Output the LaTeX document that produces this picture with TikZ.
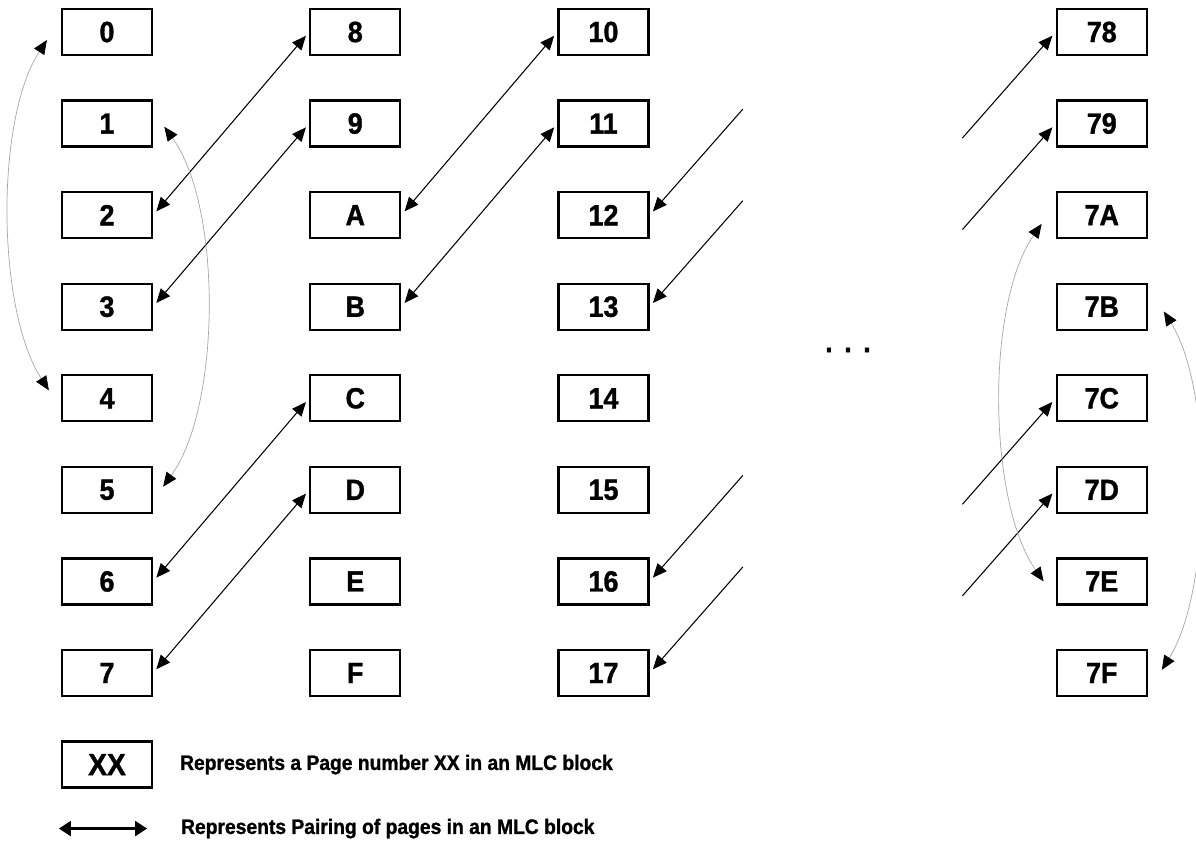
\documentclass[tikz,border=0pt]{standalone}
\usepackage{fontspec}
\newfontfamily\pagefont{Liberation Sans}[FakeStretch=0.92, BoldFeatures={FakeBold=1.2}]
\usetikzlibrary{arrows.meta, positioning, calc}

\begin{document}
\begin{tikzpicture}[
    node distance=1.083cm and 3.9cm,
    page/.style={rectangle, draw, line width=1.6pt, minimum width=2.25cm, minimum height=1.15cm, inner sep=0pt, font=\pagefont\bfseries\fontsize{20.8}{24}\selectfont},
    pairline/.style={{Triangle[length=10pt,width=8.5pt]}-{Triangle[length=10pt,width=8.5pt]}, line width=0.75pt, shorten <=3.5pt, shorten >=3.5pt},
    oneway/.style={-{Triangle[length=10pt,width=8.5pt]}, line width=0.75pt, shorten >=3.5pt},
    grayline/.style={{Triangle[length=10pt,width=8.5pt,color=black]}-{Triangle[length=10pt,width=8.5pt,color=black]}, draw=gray!70, line width=0.5pt},
    legendarrow/.style={{Triangle[length=8.5pt,width=10.5pt]}-{Triangle[length=8.5pt,width=10.5pt]}, line width=1.8pt},
    legendtext/.style={inner sep=0pt, outer sep=0pt, font=\pagefont\bfseries\fontsize{14.9}{17}\selectfont}
]
    \useasboundingbox (0,0) rectangle (29.9,-21.15);

    % Column 1
    \node[page] (p0) at (2.675,-0.8) {0};
    \node[page, below=of p0] (p1) {1};
    \node[page, below=of p1] (p2) {2};
    \node[page, below=of p2] (p3) {3};
    \node[page, below=of p3] (p4) {4};
    \node[page, below=of p4] (p5) {5};
    \node[page, below=of p5] (p6) {6};
    \node[page, below=of p6] (p7) {7};

    % Column 2
    \node[page, right=of p0] (p8) {8};
    \node[page, below=of p8] (p9) {9};
    \node[page, below=of p9] (pA) {A};
    \node[page, below=of pA] (pB) {B};
    \node[page, below=of pB] (pC) {C};
    \node[page, below=of pC] (pD) {D};
    \node[page, below=of pD] (pE) {E};
    \node[page, below=of pE] (pF) {F};

    % Column 3
    \node[page, right=of p8] (p10) {10};
    \node[page, below=of p10] (p11) {11};
    \node[page, below=of p11] (p12) {12};
    \node[page, below=of p12] (p13) {13};
    \node[page, below=of p13] (p14) {14};
    \node[page, below=of p14] (p15) {15};
    \node[page, below=of p15] (p16) {16};
    \node[page, below=of p16] (p17) {17};

    % Column 4
    \node[page, right=10.15cm of p10] (p78) {78};
    \node[page, below=of p78] (p79) {79};
    \node[page, below=of p79] (p7A) {7A};
    \node[page, below=of p7A] (p7B) {7B};
    \node[page, below=of p7B] (p7C) {7C};
    \node[page, below=of p7C] (p7D) {7D};
    \node[page, below=of p7D] (p7E) {7E};
    \node[page, below=of p7E] (p7F) {7F};

    \node[font=\pagefont\bfseries\fontsize{20.8}{24}\selectfont] (dots) at (21.2,-8.75) {.\hspace{0.29cm}.\hspace{0.29cm}.};

    % Pairings
    \draw[pairline] (p2.east) -- (p8.west);
    \draw[pairline] (p3.east) -- (p9.west);
    \draw[pairline] (p6.east) -- (pC.west);
    \draw[pairline] (p7.east) -- (pD.west);
    \draw[pairline] (pA.east) -- (p10.west);
    \draw[pairline] (pB.east) -- (p11.west);

    % Open ends around the gap
    \coordinate (g12) at ($(p12.east)+(2.33,2.65)$);
    \coordinate (g13) at ($(p13.east)+(2.33,2.65)$);
    \coordinate (g16) at ($(p16.east)+(2.33,2.65)$);
    \coordinate (g17) at ($(p17.east)+(2.33,2.65)$);
    \draw[oneway] (g12) -- (p12.east);
    \draw[oneway] (g13) -- (p13.east);
    \draw[oneway] (g16) -- (p16.east);
    \draw[oneway] (g17) -- (p17.east);

    \coordinate (g78) at ($(p78.west)+(-2.33,-2.65)$);
    \coordinate (g79) at ($(p79.west)+(-2.33,-2.65)$);
    \coordinate (g7C) at ($(p7C.west)+(-2.33,-2.65)$);
    \coordinate (g7D) at ($(p7D.west)+(-2.33,-2.65)$);
    \draw[oneway] (g78) -- (p78.west);
    \draw[oneway] (g79) -- (p79.west);
    \draw[oneway] (g7C) -- (p7C.west);
    \draw[oneway] (g7D) -- (p7D.west);

    % Same-column pairings
    \draw[grayline] ($(p0.west)+(-0.35,-0.2)$) .. controls +(-1.3,-2.0) and +(-1.3,2.0) .. ($(p4.west)+(-0.3,0.2)$);
    \draw[grayline] ($(p1.east)+(0.28,-0.08)$) .. controls +(1.45,-2.0) and +(1.45,2.0) .. ($(p5.east)+(0.25,0.08)$);
    \draw[grayline] ($(p7A.west)+(-0.35,-0.22)$) .. controls +(-1.4,-2.0) and +(-1.4,2.0) .. ($(p7E.west)+(-0.3,0)$);
    \draw[grayline] ($(p7B.east)+(0.4,-0.12)$) .. controls +(1.25,-2.0) and +(1.25,2.0) .. ($(p7F.east)+(0.35,0.08)$);

    % Legend
    \node[page, font=\pagefont\bfseries\fontsize{21.8}{25}\selectfont, below=of p7] (pXX) {XX};
    \node[legendtext, right=0.675cm of pXX] (lt1) {Represents a Page number XX in an MLC block};
    \coordinate (la) at ($(pXX.west)+(-0.05,-1.6)$);
    \coordinate (lb) at ($(pXX.east)+(-0.15,-1.6)$);
    \draw[legendarrow] (la) -- (lb);
    \node[legendtext, right=0.85cm of lb] (lt2) {Represents Pairing of pages in an MLC block};
\end{tikzpicture}
\end{document}
